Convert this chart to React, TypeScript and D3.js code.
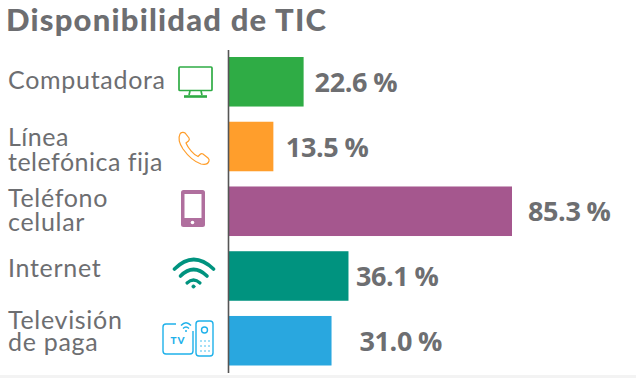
import React from "react";
import * as d3 from "d3";

const categories = ["Computadora", "Línea telefónica fija", "Teléfono celular", "Internet", "Televisión de paga"];
const values = [22.6, 13.5, 85.3, 36.1, 31.0];
const barColors = ["#2fac45", "#ff9e2c", "#a5578e", "#00937f", "#29a7df"];
const labelLines = [["Computadora"], ["Línea", "telefónica fija"], ["Teléfono", "celular"], ["Internet"], ["Televisión", "de paga"]];
const labelTops = [89, 146, 207, 277, 329];
const labelGaps = [0, 25, 24, 0, 22];
const labelSpacing = [0.7, 0.5, 0.7, 0.7, 0.7];
const valueTexts = ["22.6 %", "13.5 %", "85.3 %", "36.1 %", "31.0 %"];
const valueGaps = [11, 12.5, 16, 7.5, 28];

const GRAY = "#6d6e71";
const LABEL = "'Lato', sans-serif";

const x = d3.scaleLinear().domain([0, 85.3]).range([228.5, 512]);
const y = d3.scaleBand<string>().domain(categories).range([57, 365.5]).paddingInner(0.235).paddingOuter(0);

function Icons() {
  const green = barColors[0], orange = barColors[1], purple = "#b06f9e", teal = barColors[3], blue = "#1fb1ea";
  return (
    <g fill="none">
      <g stroke={green} strokeWidth={1.7}>
        <rect x={179} y={67} width={33} height={23.5} rx={1} />
        <path d="M190 91 L189 95 M201 91 L202 95" />
        <path d="M184 96.5 H207" strokeWidth={2.6} />
      </g>
      <path
        d="M180 134 C178 138 179 143 183 149 C188 156 195 162 201 164 C205 165 208 164 209 161 C209.500 160 209 159 208 158 L203 154 C202 153.500 201 153.500 200 154.500 L198 156.500 C194 155 188 148 186 143 L188.500 141 C189.500 140 189.500 139 189 138 L185 133 C184 132 181 132 180 134 Z"
        stroke={orange} strokeWidth={1.2} />
      <g>
        <rect x={181} y={190} width={24} height={37} rx={2.5} fill={purple} />
        <rect x={184.5} y={194} width={17} height={24} fill="#fff" />
        <circle cx={192.5} cy={222.5} r={1.8} fill="#fff" />
      </g>
      <g stroke={teal} strokeLinecap="round">
        <path d="M174.500 269 Q193.500 250 213.500 269" strokeWidth={3.6} />
        <path d="M180.500 276 Q193.500 263 207 276" strokeWidth={3.6} />
        <path d="M187 283 Q193.500 277 200 283" strokeWidth={3.2} />
        <circle cx={193.500} cy={286.500} r={1.7} fill={teal} strokeWidth={0.6} />
      </g>
      <g stroke={blue} strokeWidth={1.4}>
        <path d="M176 324 H166 Q163 324 163 327 V351 Q163 354 166 354 H190 Q193 354 193 351 V331" />
        <path d="M181 325.500 Q186 320 191 325.500 M183 328.500 Q186 325.500 189 328.500" />
        <circle cx={186} cy={331} r={1} fill={blue} stroke="none" />
        <rect x={196} y={321} width={17} height={35} rx={3} />
        <circle cx={204.500} cy={330} r={3} />
        <path d="M201 341 h.01 M205 341 h.01 M209 341 h.01 M201 346 h.01 M205 346 h.01 M209 346 h.01 M201 351 h.01 M205 351 h.01 M209 351 h.01" strokeLinecap="round" strokeWidth={1.5} />
      </g>
      <text x={178} y={344} textAnchor="middle" fill={blue} fontFamily={LABEL} fontWeight={900} fontSize={10} letterSpacing={1}>TV</text>
    </g>
  );
}

export default function App() {
  return (
    <svg width={636} height={378} viewBox="0 0 636 378" style={{ position: "fixed", left: 0, top: 0, background: "#fff" }}>
      <rect x={0} y={375} width={636} height={3} fill="#f3f3f3" />
      <text x={6} y={31} fill={GRAY} fontFamily={LABEL} fontWeight={900} fontSize={31} letterSpacing={1.2}>Disponibilidad de TIC</text>
      {categories.map((c, i) => (
        <rect key={c} x={x(0)} y={y(c)!} width={x(values[i]) - x(0)} height={y.bandwidth()} fill={barColors[i]} />
      ))}
      <line x1={228.5} x2={228.5} y1={50} y2={373} stroke="#555" strokeWidth={1.6} />
      {categories.map((c, i) => (
        <text key={c} fill={GRAY} fontFamily={LABEL} fontSize={25} letterSpacing={labelSpacing[i]}>
          {labelLines[i].map((l, j) => (
            <tspan key={l} x={8} y={labelTops[i] + j * labelGaps[i]}>{l}</tspan>
          ))}
        </text>
      ))}
      <Icons />
      {categories.map((c, i) => (
        <text key={c} x={x(values[i]) + valueGaps[i]} y={y(c)! + y.bandwidth() / 2 + 10} fill={GRAY}
          fontFamily="'Open Sans', sans-serif" fontWeight={700} fontSize={27} letterSpacing={-0.4} wordSpacing={-0.5}>
          {valueTexts[i]}
        </text>
      ))}
    </svg>
  );
}
